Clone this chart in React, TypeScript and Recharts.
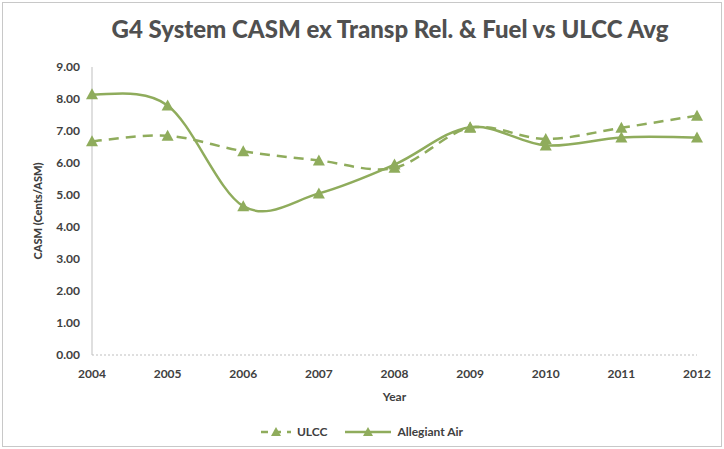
import React from "react";
import { LineChart, Line, XAxis, YAxis, Label } from "recharts";

const years = ["2004", "2005", "2006", "2007", "2008", "2009", "2010", "2011", "2012"];
const ulcc = [6.68, 6.85, 6.37, 6.08, 5.85, 7.1, 6.75, 7.1, 7.48];
const allegiant = [8.15, 7.8, 4.65, 5.05, 5.95, 7.12, 6.55, 6.8, 6.8];
const yTicks = [0, 1, 2, 3, 4, 5, 6, 7, 8, 9];

const GREEN = "#8fac5c";
const TEXT = "#404040";
const FONT = "Lato, 'Open Sans', sans-serif";

const data = years.map((y, i) => ({ year: y, ulcc: ulcc[i], allegiant: allegiant[i] }));

// Excel-style smoothed line (Catmull-Rom through the points)
function smoothCurve(context: any) {
  let pts: number[][] = [];
  return {
    areaStart() {},
    areaEnd() {},
    lineStart() {
      pts = [];
    },
    point(x: number, y: number) {
      pts.push([+x, +y]);
    },
    lineEnd() {
      if (!pts.length) return;
      context.moveTo(pts[0][0], pts[0][1]);
      for (let i = 0; i < pts.length - 1; i++) {
        const p0 = pts[Math.max(0, i - 1)];
        const p1 = pts[i];
        const p2 = pts[i + 1];
        const p3 = pts[Math.min(pts.length - 1, i + 2)];
        context.bezierCurveTo(
          p1[0] + (p2[0] - p0[0]) / 6,
          p1[1] + (p2[1] - p0[1]) / 6,
          p2[0] - (p3[0] - p1[0]) / 6,
          p2[1] - (p3[1] - p1[1]) / 6,
          p2[0],
          p2[1]
        );
      }
    },
  };
}

const Triangle = (props: any) => {
  const { cx, cy } = props;
  if (cx == null || cy == null) return null;
  return <polygon points={`${cx},${cy - 6} ${cx - 6},${cy + 5} ${cx + 6},${cy + 5}`} fill={GREEN} />;
};

function LegendIcon({ dashed, width }: { dashed: boolean; width: number }) {
  return (
    <svg width={width} height={14} style={{ verticalAlign: "middle" }}>
      <line x1={0} y1={7} x2={width} y2={7} stroke={GREEN} strokeWidth={2.5} strokeDasharray={dashed ? "7 6" : undefined} />
      <polygon points={`${width / 2},2 ${width / 2 - 5},11 ${width / 2 + 5},11`} fill={GREEN} />
    </svg>
  );
}

export default function App() {
  return (
    <div style={{ position: "absolute", left: 0, top: 0, width: 724, height: 449, background: "#fff", fontFamily: FONT }}>
      <div
        style={{
          position: "absolute",
          left: 2,
          top: 2,
          width: 718,
          height: 443,
          border: "1px solid #c8c8c8",
        }}
      />
      <div
        style={{
          position: "absolute",
          left: 0,
          top: 14,
          width: 780,
          textAlign: "center",
          fontSize: 24,
          fontWeight: 900,
          color: "#505050",
        }}
      >
        G4 System CASM ex Transp Rel. &amp; Fuel vs ULCC Avg
      </div>
      <div style={{ position: "absolute", left: 0, top: 0 }}>
        <LineChart width={724} height={449} data={data} margin={{ top: 67, right: 27, left: 30, bottom: 46 }}>
          <XAxis
            dataKey="year"
            height={48}
            axisLine={{ stroke: "#bfbfbf", strokeDasharray: "2 2" }}
            tickLine={false}
            tick={{ fill: TEXT, fontSize: 12, fontWeight: 700, fontFamily: FONT }}
            tickMargin={8}
          >
            <Label value="Year" position="insideBottom" offset={2} style={{ fill: TEXT, fontSize: 12, fontWeight: 700, fontFamily: FONT }} />
          </XAxis>
          <YAxis
            domain={[0, 9]}
            ticks={yTicks}
            width={62}
            axisLine={{ stroke: "#bfbfbf" }}
            tickLine={false}
            tickFormatter={(v: number) => v.toFixed(2)}
            tick={{ fill: TEXT, fontSize: 12, fontWeight: 700, fontFamily: FONT }}
            tickMargin={6}
          >
            <Label
              value="CASM (Cents/ASM)"
              angle={-90}
              position="insideLeft"
              offset={8}
              style={{ fill: TEXT, fontSize: 11, fontWeight: 900, fontFamily: FONT, textAnchor: "middle" }}
            />
          </YAxis>
          <Line
            dataKey="ulcc"
            type={smoothCurve as any}
            stroke={GREEN}
            strokeWidth={2.5}
            strokeDasharray="10 7"
            dot={<Triangle />}
            activeDot={false}
            isAnimationActive={false}
          />
          <Line
            dataKey="allegiant"
            type={smoothCurve as any}
            stroke={GREEN}
            strokeWidth={2.5}
            dot={<Triangle />}
            activeDot={false}
            isAnimationActive={false}
          />
        </LineChart>
      </div>
      <div
        style={{
          position: "absolute",
          left: 0,
          top: 424,
          width: 724,
          display: "flex",
          justifyContent: "center",
          alignItems: "center",
          fontSize: 12,
          fontWeight: 700,
          color: TEXT,
          gap: 6,
        }}
      >
        <LegendIcon dashed width={30} />
        <span style={{ marginRight: 12 }}>ULCC</span>
        <LegendIcon dashed={false} width={46} />
        <span>Allegiant Air</span>
      </div>
    </div>
  );
}
